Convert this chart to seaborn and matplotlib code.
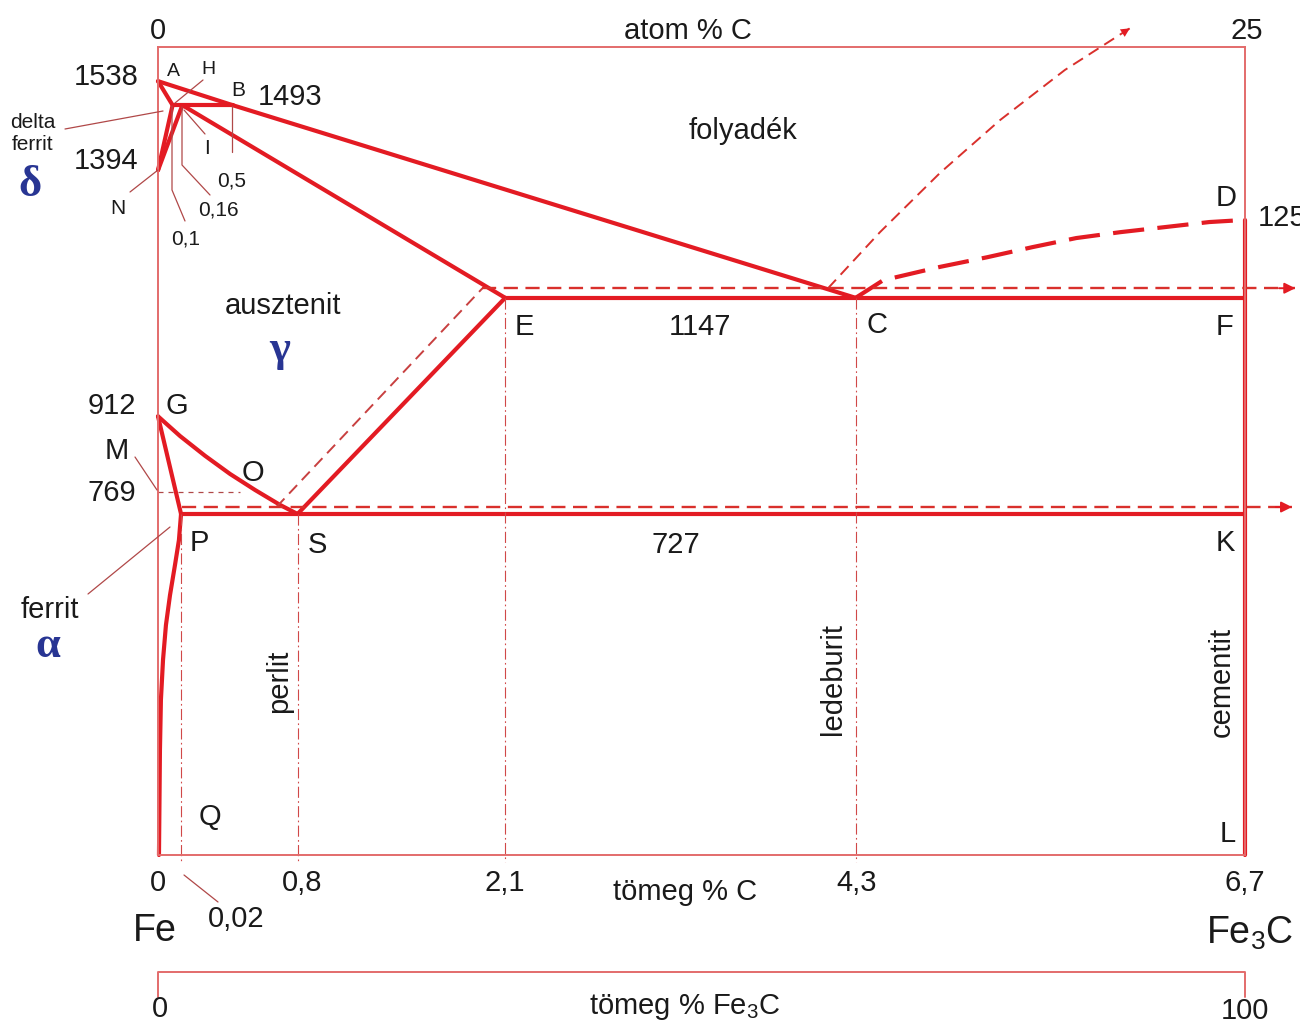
"""
Fe-C phase diagram (vas - karbon allapotabra), schematic
"""

from matplotlib import pyplot as plt
from matplotlib.lines import Line2D
import seaborn as sns

W, H = 1300, 1026

# corner points as drawn: (wt% C, °C) on the schematic scale of the picture
pt_A = (0.0, 1538)
pt_H = (0.09, 1493)
pt_J = (0.15, 1493)
pt_B = (0.46, 1493)
pt_N = (0.0, 1371)
pt_E = (2.14, 1132)
pt_C = (4.30, 1132)
pt_F = (6.70, 1132)
pt_D = (6.70, 1278)
pt_G = (0.0, 910)
pt_P = (0.142, 727)
pt_S = (0.86, 727)
pt_K = (6.70, 727)
pt_L = (6.70, 88)

# curved boundaries
gos_c = [0.0, 0.136, 0.290, 0.444, 0.598, 0.752, 0.86]
gos_t = [910, 873, 836, 802, 772, 744, 727]
pq_c = [0.142, 0.129, 0.105, 0.074, 0.049, 0.031, 0.018, 0.012, 0.006]
pq_t = [727, 678, 632, 575, 519, 454, 379, 285, 88]
cd_c = [4.30, 4.47, 4.82, 5.11, 5.39, 5.66, 5.93, 6.22, 6.48, 6.70]
cd_t = [1132, 1165, 1190, 1208, 1227, 1244, 1255, 1265, 1274, 1278]

# stable (graphite) system, dashed
graph_liq_c = [4.13, 4.45, 4.82, 5.19, 5.59, 5.99]
graph_liq_t = [1150, 1255, 1366, 1465, 1559, 1637]
graph_es_c = [0.73, 2.0]
graph_es_t = [740, 1150]
graph_eut_c = [2.0, 7.01]
graph_eut_t = 1150
graph_eutd_c = [0.148, 6.99]
graph_eutd_t = 740

# Curie line M-O
curie_c = [0.0, 0.505]
curie_t = 768

# composition drop lines (P, S, E, C)
drop_c = [0.142, 0.86, 2.14, 4.30]
drop_top = [727, 727, 1132, 1132]
drop_bottom = 74

sns.set_theme(style="white")
plt.rcParams["font.family"] = ["Liberation Sans", "DejaVu Sans"]
plt.rcParams["mathtext.fontset"] = "custom"
plt.rcParams["mathtext.rm"] = "Liberation Sans"

RED = "#e31b23"
DRED = "#d9302c"
BOX = "#e36b6b"
LEAD = "#b04848"
BLUE = "#283593"

fig = plt.figure(figsize=(W / 100, H / 100), dpi=100)
ax = fig.add_axes([158 / W, 1 - 855 / H, 1087 / W, 808 / H])


def line(xs, ys, **kw):
    sns.lineplot(x=xs, y=ys, ax=ax, sort=False, estimator=None,
                 legend=False, **kw)


def seg(p, q, **kw):
    line([p[0], q[0]], [p[1], q[1]], **kw)


thick = dict(color=RED, lw=3.0, solid_capstyle="round",
             solid_joinstyle="round", clip_on=False)

# metastable system
seg(pt_A, pt_B, **thick)
seg(pt_B, pt_C, **thick)
seg(pt_A, pt_H, **thick)
seg(pt_H, pt_B, **thick)
seg(pt_H, pt_N, **thick)
seg(pt_J, pt_N, **thick)
seg(pt_J, pt_E, **thick)
seg(pt_E, pt_F, **thick)
seg(pt_E, pt_S, **thick)
seg(pt_G, pt_P, **thick)
seg(pt_P, pt_K, **thick)
seg(pt_D, pt_L, **thick)
line(gos_c, gos_t, **thick)
line(pq_c, pq_t, **thick)
line(cd_c, cd_t, color=RED, lw=3.0, linestyle=(0, (7.5, 3.2)))

# stable system
line(graph_liq_c, graph_liq_t, color=DRED, lw=1.4, linestyle=(0, (6, 3.5)),
     clip_on=False)
line(graph_es_c, graph_es_t, color="#c84040", lw=1.4, linestyle=(0, (6, 3.5)))
line(graph_eut_c, [graph_eut_t] * 2, color=DRED, lw=1.7,
     linestyle=(0, (6, 3.2)), clip_on=False)
line(graph_eutd_c, [graph_eutd_t] * 2, color=DRED, lw=1.7,
     linestyle=(0, (6, 3.2)), clip_on=False)

arrow = dict(arrowstyle="-|>", color=RED, lw=1.4, mutation_scale=16,
             shrinkA=0, shrinkB=0)
ax.annotate("", xy=(graph_eut_c[1], graph_eut_t),
            xytext=(graph_eut_c[1] - 0.1, graph_eut_t),
            arrowprops=arrow, annotation_clip=False)
ax.annotate("", xy=(graph_eutd_c[1], graph_eutd_t),
            xytext=(graph_eutd_c[1] - 0.1, graph_eutd_t),
            arrowprops=arrow, annotation_clip=False)
ax.annotate("", xy=(graph_liq_c[-1], graph_liq_t[-1]),
            xytext=(graph_liq_c[-2], graph_liq_t[-2]),
            arrowprops=dict(arrow, lw=0), annotation_clip=False)

line(curie_c, [curie_t] * 2, color=LEAD, lw=0.9, linestyle=(0, (4, 4)))

for c, top in zip(drop_c, drop_top):
    line([c, c], [top, drop_bottom], color="#d04848", lw=0.8,
         linestyle=(0, (10, 3, 1.5, 3)), clip_on=False)

ax.set_xlim(0, 6.7)
ax.set_ylim(88, 1602)
ax.set_xticks([])
ax.set_yticks([])
ax.set_xlabel("")
ax.set_ylabel("")
for sp in ax.spines.values():
    sp.set_color(BOX)
    sp.set_linewidth(1.4)


# labels and leader lines, placed in picture pixels
def label(px, py, s, size=21, **kw):
    kw.setdefault("ha", "center")
    kw.setdefault("va", "center")
    fig.text(px / W, 1 - (py + 1) / H, s, fontsize=size, color="#1a1a1a", **kw)


def greek(px, py, s):
    fig.text(px / W, 1 - py / H, s, fontsize=32, color=BLUE, ha="center",
             va="center", family="Liberation Serif", weight="bold")


def lead(pts, color=LEAD, lw=0.9):
    fig.add_artist(Line2D([p[0] / W for p in pts], [1 - p[1] / H for p in pts],
                          color=color, lw=lw))


label(158, 30, "0")
label(688, 30, "atom % C")
label(1247, 30, "25")

label(106, 76, "1538")
label(173, 71, "A", size=14)
label(208, 68, "H", size=14)
label(238, 90, "B", size=15)
label(290, 96, "1493")
label(33, 121, "delta", size=15)
label(33, 144, "ferrit", size=15)
label(106, 160, "1394")
greek(30, 185, "δ")
label(118, 208, "N", size=15)
label(207, 147, "I", size=15)
label(232, 180, "0,5", size=15)
label(218, 209, "0,16", size=15)
label(186, 238, "0,1", size=15)

label(743, 130, "folyadék")
label(1226, 197, "D")
label(1258, 217, "1252", ha="left")

label(283, 305, "ausztenit")
greek(280, 350, "γ")
label(524, 326, "E")
label(700, 326, "1147")
label(877, 324, "C")
label(1225, 326, "F")

label(112, 405, "912")
label(177, 405, "G")
label(117, 450, "M")
label(253, 472, "O")
label(112, 492, "769")

label(199, 542, "P")
label(317, 544, "S")
label(676, 544, "727")
label(1225, 542, "K")

label(50, 609, "ferrit")
greek(48, 646, "α")

label(279, 680, "perlit", rotation=90)
label(833, 678, "ledeburit", rotation=90)
label(1222, 681, "cementit", rotation=90)
label(210, 816, "Q")
label(1228, 833, "L")

label(158, 882, "0")
label(302, 882, "0,8")
label(505, 882, "2,1")
label(685, 891, "tömeg % C")
label(857, 882, "4,3")
label(1245, 882, "6,7")
label(155, 930, "Fe", size=27)
label(236, 918, "0,02")
label(1250, 932, r"Fe$_{\mathregular{3}}$C", size=27)

label(160, 1008, "0")
label(685, 1006, r"tömeg % Fe$_{\mathregular{3}}$C")
label(1245, 1010, "100")

lead([(65, 129), (163, 111)])
lead([(175, 103), (203, 80)])
lead([(184, 110), (205, 134)])
lead([(232, 106), (232, 152)])
lead([(182, 107), (182, 165), (210, 195)])
lead([(172, 106), (172, 190), (185, 221)])
lead([(158, 170), (130, 192)])
lead([(135, 457), (157, 490)])
lead([(88, 594), (170, 527)])
lead([(184, 875), (218, 902)])
lead([(158, 997), (158, 972), (1245, 972), (1245, 997)], color=BOX, lw=1.4)

fig.savefig("out.png", dpi=100)
